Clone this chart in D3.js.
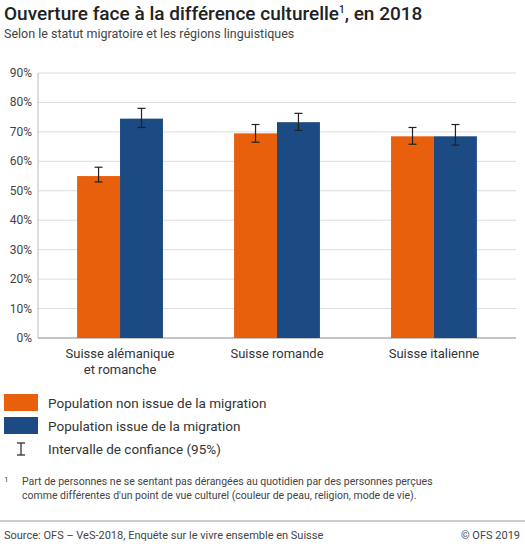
<!DOCTYPE html><html><head><meta charset="utf-8"><script src="https://cdn.jsdelivr.net/npm/d3@7"></script>
<style>body{margin:0;background:#fff;font-family:Roboto,Arial,sans-serif}</style></head><body><svg id="c" width="525" height="548"></svg>
<script>
const categories=[["Suisse alémanique","et romanche"],["Suisse romande"],["Suisse italienne"]];
const seriesNames=["Population non issue de la migration","Population issue de la migration"];
const colors=["#e8600c","#1c4a82"];
const values=[[55,74.5],[69.5,73.3],[68.5,68.5]];
const lows=[[53,71.5],[66.5,70.5],[65.8,65.5]];
const highs=[[58,78],[72.5,76.3],[71.5,72.5]];
const yTicks=[0,10,20,30,40,50,60,70,80,90];
const svg=d3.select("#c");
const L=38,R=516,T=73,B=338;
const y=d3.scaleLinear().domain([0,90]).range([B,T]);
const x0=d3.scaleBand().domain([0,1,2]).range([L+3,R-3]).paddingInner(0.453).paddingOuter(0.23);
const x1=d3.scaleBand().domain([0,1]).range([0,x0.bandwidth()]);
svg.append("text").attr("x",4).attr("y",20).attr("font-size",19).attr("font-weight",500).attr("fill","#222").html('Ouverture face à la différence culturelle<tspan font-size="10" dy="-7">1</tspan><tspan dy="7">, en 2018</tspan>');
svg.append("text").attr("x",4).attr("y",38).attr("font-size",12.5).attr("fill","#444").text("Selon le statut migratoire et les régions linguistiques");
const g=svg.append("g");
g.selectAll(".gl").data(yTicks).join("line").attr("x1",L).attr("x2",R).attr("y1",d=>y(d)).attr("y2",d=>y(d)).attr("stroke",d=>d?"#ddd":"#888");
g.selectAll(".yl").data(yTicks).join("text").attr("x",L-6).attr("y",d=>y(d)+4).attr("text-anchor","end").attr("font-size",12).attr("fill","#444").text(d=>d+"%");
g.append("line").attr("x1",L).attr("x2",L).attr("y1",T).attr("y2",B).attr("stroke","#bbb");
values.forEach((vs,i)=>vs.forEach((v,j)=>{
 const xx=x0(i)+x1(j),w=x1.bandwidth(),cx=xx+w/2;
 g.append("rect").attr("x",xx).attr("y",y(v)).attr("width",w).attr("height",B-y(v)).attr("fill",colors[j]);
 const e=g.append("g").attr("stroke","#222").attr("stroke-width",1.2);
 e.append("line").attr("x1",cx).attr("x2",cx).attr("y1",y(lows[i][j])).attr("y2",y(highs[i][j]));
 [lows[i][j],highs[i][j]].forEach(k=>e.append("line").attr("x1",cx-4).attr("x2",cx+4).attr("y1",y(k)).attr("y2",y(k)));
}));
categories.forEach((c,i)=>c.forEach((t,k)=>g.append("text").attr("x",x0(i)+x0.bandwidth()/2).attr("y",B+20+k*16).attr("text-anchor","middle").attr("font-size",13).attr("fill","#333").text(t)));
seriesNames.forEach((s,j)=>{svg.append("rect").attr("x",4).attr("y",394+j*23).attr("width",34).attr("height",17).attr("fill",colors[j]);
 svg.append("text").attr("x",48).attr("y",408+j*23).attr("font-size",13.5).attr("fill","#333").text(s);});
const lg=svg.append("g").attr("stroke","#222").attr("stroke-width",1.2);
lg.append("line").attr("x1",21).attr("x2",21).attr("y1",443).attr("y2",455);
lg.append("line").attr("x1",17).attr("x2",25).attr("y1",443).attr("y2",443);
lg.append("line").attr("x1",17).attr("x2",25).attr("y1",455).attr("y2",455);
svg.append("text").attr("x",48).attr("y",454).attr("font-size",13.5).attr("fill","#333").text("Intervalle de confiance (95%)");
svg.append("text").attr("x",4).attr("y",482).attr("font-size",8).attr("fill","#444").text("1");
svg.append("text").attr("x",22).attr("y",485).attr("font-size",10.5).attr("fill","#444").text("Part de personnes ne se sentant pas dérangées au quotidien par des personnes perçues");
svg.append("text").attr("x",22).attr("y",499).attr("font-size",10.5).attr("fill","#444").text("comme différentes d'un point de vue culturel (couleur de peau, religion, mode de vie).");
svg.append("line").attr("x1",0).attr("x2",525).attr("y1",521).attr("y2",521).attr("stroke","#999");
svg.append("text").attr("x",4).attr("y",539).attr("font-size",11).attr("fill","#444").text("Source: OFS – VeS-2018, Enquête sur le vivre ensemble en Suisse");
svg.append("text").attr("x",520).attr("y",539).attr("text-anchor","end").attr("font-size",11).attr("fill","#444").text("© OFS 2019");
</script></body></html>
